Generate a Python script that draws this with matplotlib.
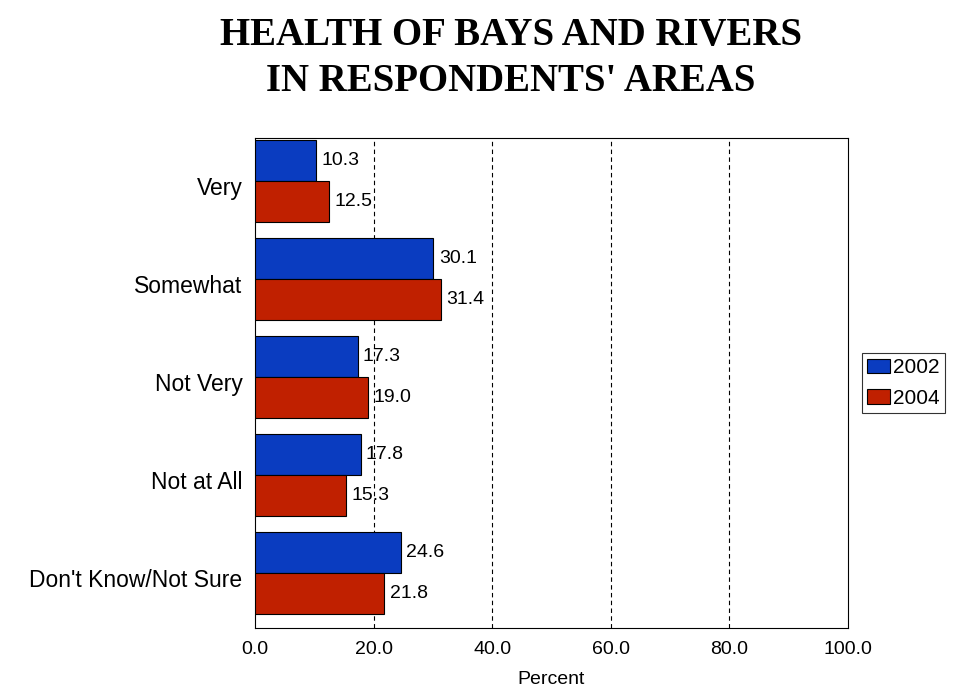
import matplotlib.pyplot as plt
import numpy as np

categories = ["Very", "Somewhat", "Not Very", "Not at All", "Don't Know/Not Sure"]
years = ["2002", "2004"]
values_2002 = [10.3, 30.1, 17.3, 17.8, 24.6]
values_2004 = [12.5, 31.4, 19.0, 15.3, 21.8]
colors = ["#0a3cc0", "#c02000"]

plt.rcParams['font.family'] = ['Liberation Sans', 'DejaVu Sans']
fig = plt.figure(figsize=(9.6, 7.0), dpi=100)
ax = fig.add_axes([255/960, 1-628/700, 593/960, 490/700])

y = np.arange(len(categories))
h = 0.42
for k, vals in enumerate([values_2002, values_2004]):
    pos = y - h/2 + k*h
    ax.barh(pos, vals, height=h, color=colors[k], edgecolor='black', linewidth=0.8, label=years[k], zorder=3)
    for p, v in zip(pos, vals):
        ax.text(v + 0.9, p, f"{v:.1f}", va='center', ha='left', fontsize=14, zorder=4)

ax.set_xlim(0, 100)
ax.set_ylim(4.56, -0.44)
ax.set_yticks(y + 0.05)
ax.set_yticklabels(categories, fontsize=16.5)
ax.set_xticks([0, 20, 40, 60, 80, 100])
ax.set_xticklabels([f"{t:.1f}" for t in [0, 20, 40, 60, 80, 100]], fontsize=14)
ax.tick_params(length=0, pad=9)
for t in [20, 40, 60, 80]:
    ax.axvline(t, color='black', linestyle=(0, (4, 3)), linewidth=0.8, zorder=1)
ax.set_xlabel("Percent", fontsize=14, labelpad=10)

fig.suptitle("HEALTH OF BAYS AND RIVERS\nIN RESPONDENTS' AREAS", y=0.975, x=0.532,
             fontsize=28, fontweight='bold', family='Liberation Serif', linespacing=1.3)

leg = ax.legend(loc='center left', bbox_to_anchor=(1.023, 0.5), fontsize=15, frameon=True,
                fancybox=False, edgecolor='black', handlelength=1.1, handletextpad=0.15,
                borderpad=0.25, labelspacing=0.55, borderaxespad=0)
leg.get_frame().set_linewidth(0.8)

fig.savefig("out.png")
